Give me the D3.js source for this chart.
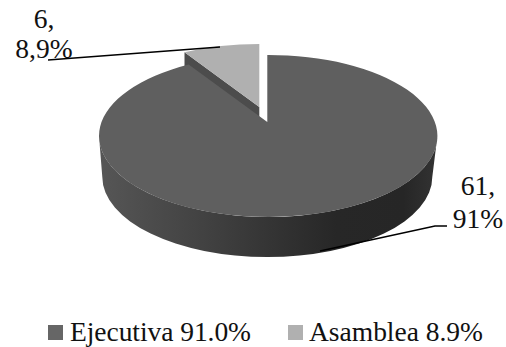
<!DOCTYPE html>
<html><head><meta charset="utf-8">
<script src="https://cdn.jsdelivr.net/npm/d3@7/dist/d3.min.js"></script>
<style>html,body{margin:0;padding:0;background:#fff}svg{display:block}text{font-family:"Liberation Serif",serif;fill:#111}</style>
</head><body><div id="c"></div>
<script>
const categories = ["Ejecutiva", "Asamblea"];
const counts = [61, 6];
const legendLabels = ["Ejecutiva 91.0%", "Asamblea 8.9%"];
const dataLabels = [["61,", "91%"], ["6,", "8,9%"]];
const sliceColors = ["#5f5f5f", "#b0b0b0"];

const W = 506, H = 347;
const svg = d3.select("#c").append("svg").attr("width", W).attr("height", H);
const defs = svg.append("defs");
const grad = defs.append("linearGradient").attr("id", "wall").attr("x1", 0).attr("x2", 1).attr("y1", 0).attr("y2", 0);
[[0, "#565656"], [0.35, "#3f3f3f"], [0.7, "#272727"], [0.9, "#262626"], [1, "#333333"]]
  .forEach(([o, c]) => grad.append("stop").attr("offset", o).attr("stop-color", c));

const pieGen = d3.pie().sort(null);
const arcs = pieGen(counts);

const main = { ax: 267.3, ay: 122, cx: 268.2, cy: 136, rx: 169.2, ry: 81 };
const small = { ax: 259.3, ay: 107, cx: 259.3, cy: 125, rx: 169.2, ry: 81 };
const K = 2.17;

function rim(g, a) {
  const dx = K * Math.sin(a), dy = -Math.cos(a);
  const ox = (g.ax - g.cx) / g.rx, oy = (g.ay - g.cy) / g.ry;
  const ux = dx / g.rx, uy = dy / g.ry;
  const A = ux * ux + uy * uy, B = 2 * (ox * ux + oy * uy), C = ox * ox + oy * oy - 1;
  const t = (-B + Math.sqrt(B * B - 4 * A * C)) / (2 * A);
  return [g.ax + t * dx, g.ay + t * dy];
}
function wedge(g, a0, a1) {
  const p0 = rim(g, a0), p1 = rim(g, a1);
  const large = (a1 - a0) > Math.PI ? 1 : 0;
  return `M${g.ax},${g.ay}L${p0[0]},${p0[1]}A${g.rx},${g.ry} 0 ${large} 1 ${p1[0]},${p1[1]}Z`;
}

// exploded small slice: side wall then top
const sm = arcs[1];
const smCorner = rim(small, sm.startAngle);
const wallDepth = 40;
svg.append("path")
  .attr("d", `M${small.ax},${small.ay}L${smCorner[0]},${smCorner[1]}L${smCorner[0]},${smCorner[1] + wallDepth}L${small.ax},${small.ay + wallDepth}Z`)
  .attr("fill", "#4c4c4c");
svg.append("path").attr("d", wedge(small, sm.startAngle, sm.endAngle)).attr("fill", sliceColors[1]);

// main slice wall (extruded rim with slight taper)
const bx = 267.3, by = 177, brx = 165, bry = 80;
svg.append("path")
  .attr("d", `M${main.cx - main.rx},${main.cy}L${bx - brx},${by}A${brx},${bry} 0 0 0 ${bx + brx},${by}L${main.cx + main.rx},${main.cy}A${main.rx},${main.ry} 0 0 1 ${main.cx - main.rx},${main.cy}Z`)
  .attr("fill", "url(#wall)");
svg.append("path").attr("d", wedge(main, arcs[0].startAngle, arcs[0].endAngle)).attr("fill", sliceColors[0]);

// leader lines
const line = d3.line();
svg.append("path").attr("d", line([[220, 47], [48, 60]])).attr("fill", "none").attr("stroke", "#000").attr("stroke-width", 1.4);
svg.append("path").attr("d", line([[320, 251], [435, 226], [447, 226]])).attr("fill", "none").attr("stroke", "#000").attr("stroke-width", 1.4);

// data labels
const fs = 27.5;
const lab = [[478, 195, 228], [44, 28, 58]];
dataLabels.forEach((d, i) => {
  d.forEach((s, j) => svg.append("text").attr("x", lab[i][0]).attr("y", lab[i][j + 1]).attr("text-anchor", "middle").attr("font-size", fs).text(s));
});

// legend
const lx = [48, 288], tx = [70, 309], tl = [181, 174];
legendLabels.forEach((s, i) => {
  svg.append("rect").attr("x", lx[i]).attr("y", 325).attr("width", 15).attr("height", 15).attr("fill", i ? "#b0b0b0" : "#666");
  svg.append("text").attr("x", tx[i]).attr("y", 341).attr("font-size", fs).attr("textLength", tl[i]).text(s);
});
</script></body></html>
